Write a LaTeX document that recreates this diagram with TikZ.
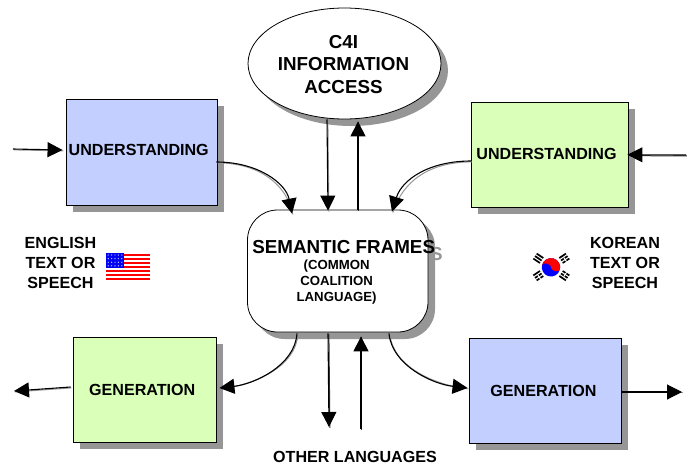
\documentclass[tikz,border=0pt]{standalone}
\usepackage{fontspec}
\setmainfont{Liberation Sans}
\usetikzlibrary{arrows.meta,shapes.geometric,shadows}
\definecolor{boxblue}{HTML}{C2CFFF}
\definecolor{boxgreen}{HTML}{DAFFB8}
\definecolor{shadowgrey}{HTML}{969696}
\newcommand{\conn}[1]{%
  \draw[connshade] #1;%
  \draw[connline] #1;}
\newcommand{\connpair}[1]{%
  \draw[connshade,draw=black!80] #1;%
  \draw[connline] #1;}
\tikzset{
  flatshadow/.style={drop shadow={shadow xshift=#1pt,shadow yshift=-#1pt,fill=shadowgrey,opacity=1}},
  blockbox/.style={draw=black,line width=0.9pt,rectangle,inner sep=0pt,flatshadow=6.7},
  bluebox/.style={blockbox,fill=boxblue},
  greenbox/.style={blockbox,fill=boxgreen},
  lbl/.style={font=\bfseries\fontsize{16.1}{20}\selectfont,align=center,inner sep=0pt},
  biglbl/.style={font=\bfseries\fontsize{18.8}{22.5}\selectfont,align=center,inner sep=0pt},
  smalllbl/.style={font=\bfseries\fontsize{13.2}{16.2}\selectfont,align=center,inner sep=0pt},
  connline/.style={line width=1.1pt,-{Triangle[length=15pt,width=15pt]}},
  connshade/.style={line width=1pt,draw=shadowgrey,transform canvas={shift={(0.9pt,-0.9pt)}}},
}
\begin{document}
\begin{tikzpicture}[x=1pt,y=-1pt]
\useasboundingbox (0,0) rectangle (691,464);
% shapes
\node[draw=black,line width=0.8pt,ellipse,fill=white,minimum width=193pt,minimum height=111pt,inner sep=0pt,flatshadow=7] (c4i) at (344.5,63.5) {};
\node[draw=black,line width=0.8pt,rectangle,rounded corners=30pt,fill=white,minimum width=180.5pt,minimum height=122pt,inner sep=0pt,flatshadow=7] (frames) at (337.75,271) {};
\node[bluebox,minimum width=151pt,minimum height=105.5pt] (ul) at (141.5,152.25) {};
\node[greenbox,minimum width=156.5pt,minimum height=104.5pt] (ur) at (549.75,154.75) {};
\node[greenbox,minimum width=143.5pt,minimum height=104.5pt] (ll) at (144.75,389.75) {};
\node[bluebox,minimum width=152pt,minimum height=104.5pt] (lr) at (545.5,390.75) {};
% free ends
\coordinate (inL) at (13,149);
\coordinate (inR) at (686,155);
\coordinate (outL) at (14,391);
\coordinate (outR) at (682,392);
\coordinate (otherDown) at (329,427);
\coordinate (otherUp) at (361,429);
% connectors
\conn{(inL) -- ([xshift=-3pt,yshift=2.25pt]ul.west)}
\connpair{(inR) -- ([xshift=-1pt]ur.east)}
\conn{([xshift=-1pt,yshift=-9.75pt]ul.east) .. controls +(42,0) and +(-6,-30) .. ([xshift=-45.75pt,yshift=-4pt]frames.north)}
\conn{([yshift=-6.25pt]ur.west) .. controls +(-42,0) and +(10,-32) .. ([xshift=54.25pt,yshift=-2pt]frames.north)}
\conn{([xshift=-17.5pt]c4i.south) -- ([xshift=-9.75pt,yshift=-1pt]frames.north)}
\connpair{([xshift=20.25pt]frames.north) -- ([xshift=13.5pt,yshift=-2pt]c4i.south)}
\conn{([xshift=-2pt,yshift=2.75pt]ll.west) -- (outL)}
\conn{([xshift=-40.75pt,yshift=-1pt]frames.south) .. controls +(-2,32) and +(35,-4) .. ([xshift=2.5pt,yshift=1.75pt]ll.east)}
\conn{([xshift=51.25pt,yshift=-1pt]frames.south) .. controls +(3,32) and +(-35,-4) .. ([xshift=-1.5pt,yshift=2.75pt]lr.west)}
\conn{([yshift=-1.25pt]lr.east) -- (outR)}
\connpair{([xshift=-9.75pt,yshift=-1pt]frames.south) -- (otherDown)}
\connpair{(otherUp) -- ([xshift=23.25pt,yshift=-4pt]frames.south)}
% labels
\node[biglbl,text=shadowgrey] (ghost) at (436.5,254) {S};
\node[biglbl] (c4itext) at (343.5,64.5) {C4I\\INFORMATION\\ACCESS};
\node[biglbl] (semtext) at (343.7,247.5) {SEMANTIC FRAMES};
\node[smalllbl] (commontext) at (336.6,282) {(COMMON\\COALITION\\LANGUAGE)};
\node[lbl] (ultext) at (138.7,150) {UNDERSTANDING};
\node[lbl] (urtext) at (546.5,154) {UNDERSTANDING};
\node[lbl] (lltext) at (142.2,389.5) {GENERATION};
\node[lbl] (lrtext) at (543.5,390.5) {GENERATION};
\node[lbl] (entext) at (60.5,262.5) {ENGLISH\\TEXT OR\\SPEECH};
\node[lbl] (kotext) at (625,262.5) {KOREAN\\TEXT OR\\SPEECH};
\node[lbl] (othertext) at (355,456.5) {OTHER LANGUAGES};
% US flag
\begin{scope}
  \foreach \s in {0,...,6}
    \fill[red] (106,253.8+4*\s) rectangle (150,255.9+4*\s);
  \fill[blue!95!black] (106,253) rectangle (124,268);
  \foreach \i in {0,...,4}
    \foreach \j in {0,...,3}
      \fill[white,opacity=0.75] (108.2+3.4*\i,255+3.6*\j) circle[radius=0.7];
\end{scope}
% Korean flag
\begin{scope}[shift={(551,267.3)},x=1pt,y=1pt]
  \begin{scope}[rotate=-15]
    \fill[blue] (0,0) circle[radius=9.2];
    \fill[red] (-9.2,0) arc[start angle=180,end angle=0,radius=9.2]
      arc[start angle=0,end angle=-180,x radius=4.6,y radius=2.6]
      arc[start angle=0,end angle=180,x radius=4.6,y radius=2.6] -- cycle;
  \end{scope}
  \foreach \px/\py/\r/\gap in {-12.7/9/56/0,13.3/9/-56/1,-12.7/-8.4/-56/2,13.3/-8.4/56/3}{
    \begin{scope}[shift={(\px,\py)},rotate=\r]
      \foreach \k in {-1,0,1}
        \draw[black,line width=1.7pt] (\k*3,-4) -- (\k*3,4);
      \ifnum\gap>0
        \fill[white] (-1,-0.5) rectangle (4,0.5);
      \fi
    \end{scope}
  }
\end{scope}
\end{tikzpicture}
\end{document}
